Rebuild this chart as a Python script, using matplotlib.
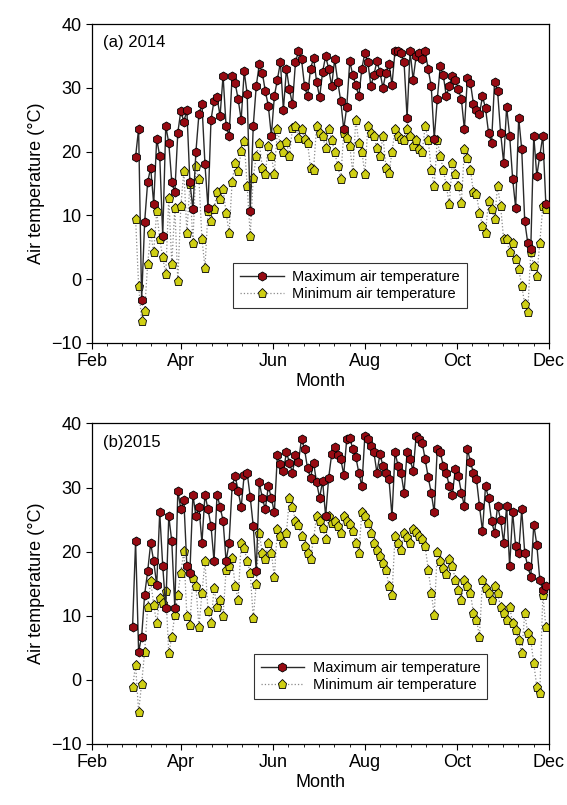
import numpy as np
import matplotlib
matplotlib.use('Agg')
import matplotlib.pyplot as plt
from matplotlib.ticker import FixedLocator

plt.rcParams['font.family'] = ['Liberation Sans', 'DejaVu Sans']

# day of year, every second day
days_2014 = np.arange(61, 334, 2)
days_2015 = np.arange(59, 334, 2)

tmax_2014 = [19.2, 23.6, -3.3, 9.0, 15.2,
             17.5, 11.8, 22.0, 19.3, 6.8,
             24.0, 21.4, 15.2, 13.6, 23.0,
             26.4, 24.7, 26.5, 15.2, 11.0,
             20.0, 25.9, 27.4, 18.0, 11.2,
             25.0, 28.0, 28.5, 25.6, 31.9,
             24.0, 22.5, 31.9, 30.8, 28.2,
             25.0, 32.6, 29.0, 10.7, 24.0,
             30.3, 33.7, 32.4, 29.5, 27.2,
             22.5, 28.7, 31.3, 34.0, 26.6,
             32.9, 29.8, 27.4, 34.0, 35.8,
             34.5, 30.3, 28.7, 33.0, 34.7,
             31.0, 28.5, 32.5, 35.0, 33.0,
             30.3, 34.5, 31.0, 28.0, 23.5,
             27.0, 34.2, 32.0, 30.5, 28.7,
             33.0, 35.5, 34.0, 30.3, 32.0,
             34.2, 32.5, 30.0, 32.4, 33.8,
             30.5, 35.8, 35.8, 35.5, 34.0,
             25.3, 35.8, 31.3, 35.0, 35.5,
             34.5, 35.8, 32.9, 30.3, 22.0,
             28.2, 33.4, 32.0, 28.7, 30.3,
             31.9, 31.3, 29.8, 28.2, 23.5,
             31.6, 30.8, 27.5, 26.6, 25.9,
             28.7, 26.8, 23.0, 21.4, 31.0,
             29.5, 23.0, 18.3, 27.0, 22.5,
             15.7, 11.2, 25.3, 20.4, 9.1,
             5.7, 4.7, 22.5, 16.2, 19.3,
             22.5, 11.8]

tmin_2014 = [9.5, -1.0, -6.5, -5.0, 2.4,
             7.3, 4.2, 10.7, 6.3, 3.4,
             0.8, 12.8, 2.4, 11.2, -0.3,
             11.5, 17.0, 7.3, 14.9, 5.7,
             17.8, 15.7, 6.3, 1.8, 10.7,
             9.1, 11.0, 13.6, 12.5, 14.1,
             10.4, 7.3, 15.2, 18.3, 17.0,
             20.1, 21.7, 14.6, 6.8, 15.9,
             19.3, 21.4, 17.5, 16.5, 20.9,
             19.3, 16.5, 23.5, 21.0, 19.9,
             21.5, 19.3, 23.7, 24.0, 22.2,
             23.5, 22.0, 21.4, 17.5, 17.2,
             24.0, 23.0, 22.5, 20.5, 23.5,
             21.9, 19.9, 17.8, 15.7, 23.0,
             22.2, 20.9, 16.7, 25.0, 21.4,
             20.0, 16.5, 24.0, 23.0, 22.5,
             20.5, 19.3, 22.5, 17.5, 16.7,
             19.9, 23.5, 22.5, 22.0, 21.9,
             23.5, 22.5, 20.9, 21.9, 20.4,
             19.9, 24.0, 21.9, 17.2, 14.6,
             21.9, 19.3, 17.2, 14.6, 11.8,
             18.3, 16.5, 14.6, 12.0, 20.4,
             19.0, 17.2, 13.6, 13.3, 10.4,
             8.4, 7.3, 12.3, 11.0, 9.4,
             14.6, 11.5, 6.3, 6.3, 4.2,
             5.7, 3.1, 1.6, -1.0, -3.9,
             -5.2, 4.2, 2.1, 0.5, 5.7,
             11.5, 11.0]

tmax_2015 = [8.3, 21.6, 4.4, 6.7, 13.3,
             16.9, 21.3, 18.5, 14.8, 26.1,
             17.7, 11.2, 25.5, 21.6, 11.2,
             29.5, 26.6, 28.0, 17.7, 16.7,
             28.9, 25.5, 27.0, 21.4, 28.9,
             26.6, 24.0, 18.5, 28.9, 27.0,
             24.8, 18.5, 21.4, 30.2, 31.8,
             29.5, 26.9, 32.0, 32.3, 28.5,
             24.0, 16.9, 30.8, 28.4, 26.6,
             30.2, 28.4, 26.1, 35.0, 33.6,
             32.5, 35.5, 33.9, 32.3, 35.0,
             34.0, 37.6, 36.0, 33.0, 31.5,
             33.9, 30.8, 28.4, 31.0, 25.5,
             31.5, 35.2, 36.3, 35.0, 34.5,
             32.0, 37.6, 37.8, 36.0, 34.8,
             32.3, 30.2, 38.0, 37.6, 36.5,
             35.5, 32.3, 35.2, 33.4, 32.3,
             31.3, 25.5, 35.5, 33.4, 32.3,
             29.2, 35.5, 34.4, 32.6, 38.0,
             37.6, 37.0, 34.4, 31.6, 29.2,
             26.1, 36.0, 35.5, 33.4, 32.3,
             30.2, 28.9, 32.9, 31.8, 29.2,
             27.1, 36.0, 34.0, 32.3, 31.3,
             27.1, 23.2, 30.2, 28.4, 24.8,
             22.9, 27.1, 25.0, 21.4, 27.1,
             17.7, 26.1, 20.8, 19.8, 26.6,
             19.8, 17.7, 16.1, 24.2, 21.1,
             15.6, 14.0, 14.6]

tmin_2015 = [-1.1, 2.3, -5.0, -0.6, 4.4,
             11.4, 15.4, 11.7, 8.8, 12.7,
             12.0, 13.8, 4.1, 6.7, 10.1,
             13.3, 16.7, 20.1, 9.9, 8.6,
             15.9, 14.6, 8.3, 13.5, 18.5,
             10.7, 8.8, 14.3, 11.4, 12.5,
             9.9, 17.2, 17.7, 19.0, 14.6,
             12.5, 21.4, 20.5, 18.5, 16.7,
             9.6, 15.0, 22.9, 19.8, 18.8,
             21.4, 19.8, 16.1, 23.5, 22.4,
             21.4, 22.9, 28.4, 26.9, 24.8,
             24.2, 22.4, 20.8, 19.8, 18.8,
             22.0, 25.5, 24.8, 23.7, 21.9,
             25.5, 24.5, 24.8, 24.0, 22.9,
             25.5, 24.8, 24.3, 23.2, 21.4,
             19.8, 26.1, 25.5, 24.5, 22.9,
             21.4, 20.3, 19.3, 18.2, 17.2,
             14.6, 13.3, 22.4, 21.4, 20.3,
             22.9, 22.2, 21.4, 23.5, 23.0,
             22.4, 21.9, 20.8, 17.2, 13.5,
             10.1, 20.0, 18.5, 17.5, 16.5,
             18.8, 17.7, 15.6, 14.0, 12.5,
             15.6, 14.6, 13.5, 10.4, 9.4,
             6.7, 15.6, 14.3, 13.5, 12.5,
             14.6, 13.5, 11.4, 10.4, 9.4,
             11.4, 8.8, 7.7, 6.2, 4.1,
             10.4, 7.3, 6.2, 2.6, -1.1,
             -2.1, 13.3, 8.3]

month_pos = [32, 91, 152, 213, 274, 335]
month_lab = ['Feb', 'Apr', 'Jun', 'Aug', 'Oct', 'Dec']

fig = plt.figure(figsize=(5.67, 8.05), dpi=100)
ax1 = fig.add_axes([0.162, 0.574, 0.806, 0.396])
ax2 = fig.add_axes([0.162, 0.076, 0.806, 0.398])

red = '#960A12'
yel = '#CFCF14'

def panel(ax, days, tmax, tmin, title, leg_xy):
    ax.plot(days, tmax, color='#2a2a2a', lw=1.0, marker='h', ms=6.5,
            mfc=red, mec='black', mew=0.6, label='Maximum air temperature', zorder=3)
    ax.plot(days, tmin, color='#8a8a8a', lw=0.9, ls=':', marker='p', ms=6.5,
            mfc=yel, mec='black', mew=0.6, label='Minimum air temperature', zorder=2)
    ax.set_xlim(32, 335)
    ax.set_ylim(-10, 40)
    ax.set_yticks([-10, 0, 10, 20, 30, 40])
    ax.set_xticks(month_pos)
    ax.set_xticklabels(month_lab)
    minor = []
    for a, b in zip(month_pos[:-1], month_pos[1:]):
        minor += list(np.linspace(a, b, 7)[1:-1])
    ax.xaxis.set_minor_locator(FixedLocator(minor))
    ax.tick_params(axis='both', which='major', labelsize=13, direction='out', length=4)
    ax.tick_params(axis='x', which='minor', direction='out', length=2.5)
    ax.set_xlabel('Month', fontsize=13, labelpad=2)
    ax.set_ylabel('Air temperature (°C)', fontsize=13, labelpad=4)
    ax.text(0.025, 0.965, title, transform=ax.transAxes, fontsize=12, va='top', ha='left')
    leg = ax.legend(loc='center', bbox_to_anchor=leg_xy, fontsize=10.5, frameon=True,
                    fancybox=False, edgecolor='black', handlelength=3.0,
                    borderpad=0.45, labelspacing=0.25, handletextpad=0.6)
    leg.get_frame().set_linewidth(0.8)
    for s in ax.spines.values():
        s.set_linewidth(0.9)

panel(ax1, days_2014, tmax_2014, tmin_2014, '(a) 2014', (0.565, 0.18))
panel(ax2, days_2015, tmax_2015, tmin_2015, '(b)2015', (0.61, 0.21))

fig.savefig('out.png', dpi=100)
